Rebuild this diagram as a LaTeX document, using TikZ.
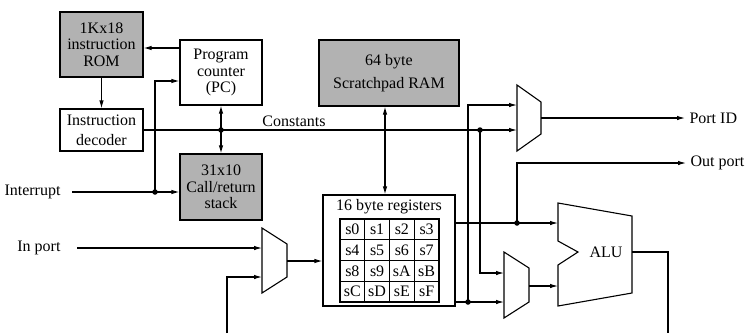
\documentclass[tikz,border=0pt]{standalone}
\usepackage{fontspec}
\setmainfont{Liberation Serif}
\usetikzlibrary{arrows.meta}
\tikzset{
  box/.style={draw, line width=1.1pt, align=center, inner sep=0pt},
  darkbox/.style={box, fill=gray!60},
  cell/.style={draw, line width=1.1pt, inner sep=0pt, minimum width=24.75pt, minimum height=20.75pt},
  lbl/.style={inner sep=0pt, outer sep=4.5pt},
  dot/.style={circle, fill, inner sep=0pt, minimum size=5.5pt},
}
\begin{document}
\begin{tikzpicture}[x=1pt, y=-1pt, line width=1.1pt, >={Latex[length=8pt,width=4.5pt]},
  every node/.style={font=\fontsize{16}{16.6}\selectfont}]
\useasboundingbox (0,0) rectangle (745,333);
% blocks
\node[darkbox, minimum width=83pt, minimum height=65pt] (rom) at (101.5,44.5) {1Kx18\\instruction\\ROM};
\node[box, minimum width=82pt, minimum height=65pt] (pc) at (221,72.5) {Program\\counter\\(PC)};
\node[box, minimum width=83pt, minimum height=42pt] (dec) at (101.5,130) {Instruction\\[3pt]decoder};
\node[darkbox, minimum width=82pt, minimum height=66pt] (stack) at (221,187) {31x10\\Call/return\\stack};
\node[darkbox, minimum width=140pt, minimum height=66pt] (ram) at (389,73) {64 byte\\[6pt]Scratchpad RAM};
\node[box, minimum width=132pt, minimum height=111pt] (regs) at (389,250.5) {};
\node (regtitle) at (389,207) {16 byte registers};
\foreach \lbl [count=\i from 0] in {0,1,2,3,4,5,6,7,8,9,A,B,C,D,E,F} {
  \pgfmathtruncatemacro\col{mod(\i,4)}
  \pgfmathtruncatemacro\row{\i/4}
  \node[cell] (s\lbl) at ({340+24.75*(\col+0.5)},{219+20.75*(\row+0.5)}) {s\lbl};
}
% multiplexers and ALU
\draw (517,85) -- (541,102) -- (541,134) -- (517,151) -- cycle;
\coordinate (mt1) at (517,105);
\coordinate (mt2) at (517,130);
\coordinate (mto) at (541,118);
\draw (504,252) -- (529,268) -- (529,302) -- (504,318) -- cycle;
\coordinate (mb1) at (504,273);
\coordinate (mb2) at (504,302);
\coordinate (mbo) at (529,286);
\draw (262,228) -- (287,244) -- (287,277) -- (262,293) -- cycle;
\coordinate (ml1) at (262,248);
\coordinate (ml2) at (262,277);
\coordinate (mlo) at (287,261);
\draw (558,203) -- (632,216) -- (632,293) -- (558,306) -- (558,265) -- (578,252) -- (558,241) -- cycle;
\node (alu) at (606,252) {ALU};
\coordinate (alu1) at (558,223);
\coordinate (alu2) at (558,286);
\coordinate (aluo) at (632,252);
% labels
\node[lbl, anchor=east] (intr) at (65,192) {Interrupt};
\node[lbl, anchor=east] (inport) at (65,248) {In port};
\node (const) at (294,121) {Constants};
\node[lbl, anchor=west] (portid) at (685,118) {Port ID};
\node[lbl, anchor=west] (outport) at (686,163) {Out port};
\coordinate (fbin) at (227,333);
\coordinate (fbout) at (668,333);
% junctions
\node[dot] (jint) at (155,192) {};
\node[dot] (jpc) at (221,130) {};
\node[dot] (jconst) at (480,130) {};
\node[dot] (jout) at (517,223) {};
\node[dot] (jreg) at (468,302) {};
% connections
\draw[->] (pc.west |- 0,48) -- (rom.east |- 0,48);
\draw[->] (rom) -- (dec);
\draw[->] ([xshift=7pt]intr.east) -- (stack.west |- intr.east);
\draw[->] (jint.center) |- (pc.west |- 0,81);
\draw[<->] (pc) -- (stack);
\draw[->] (dec.east) -- (mt2);
\draw[<->] (ram.south -| 385,0) -- (regs.north -| 385,0);
\draw[->] ([xshift=12pt]inport.east) -- (ml1);
\draw[->] (fbin) |- (ml2);
\draw[->] (mlo) -- (regs.west |- mlo);
\draw[->] (regs.east |- alu1) -- (alu1);
\draw[->] (jout.center) |- (outport.west);
\draw[->] (regs.east |- mb2) -- (mb2);
\draw[->] (jreg.center) |- (mt1);
\draw[->] (jconst.center) |- (mb1);
\draw[->] (mto) -- (portid.west);
\draw[->] (mbo) -- (alu2);
\draw (aluo) -| (fbout);
\end{tikzpicture}
\end{document}
